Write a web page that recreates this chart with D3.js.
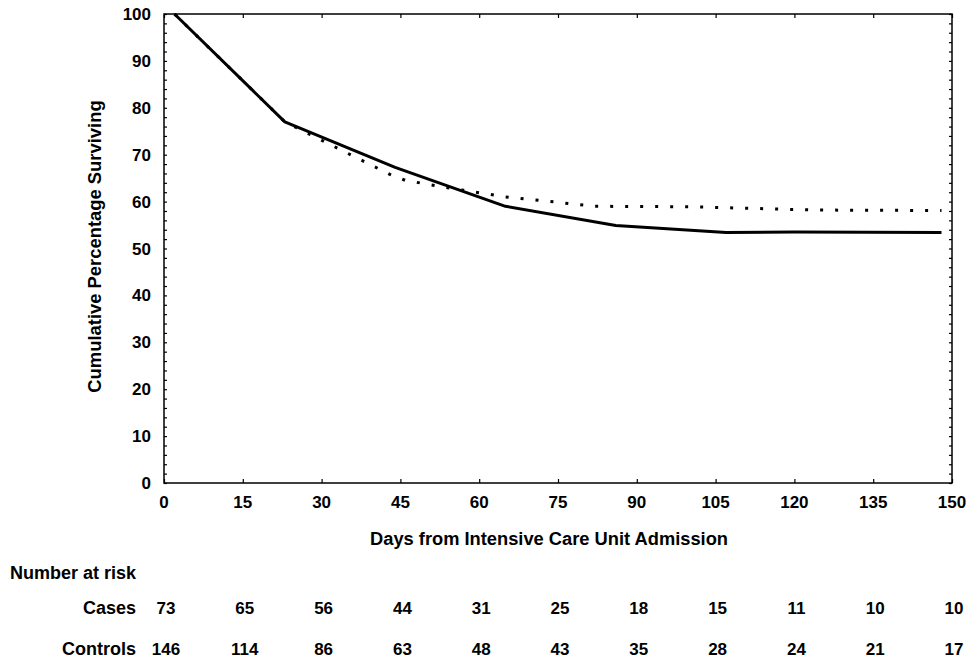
<!DOCTYPE html>
<html>
<head>
<meta charset="utf-8">
<script src="https://cdn.jsdelivr.net/npm/d3@7"></script>
<style>
  body { margin: 0; background: #fff; }
  svg text { font-family: "Liberation Sans", Arial, sans-serif; font-weight: bold; fill: #000; }
</style>
</head>
<body>
<div id="chart"></div>
<script>
// survival curves, [day, cumulative % surviving]
var casesCurve = [[2, 100], [23, 77], [44, 67.3], [65, 59], [86, 54.9], [107, 53.4], [120, 53.5], [148, 53.4]];
var controlsCurve = [[2, 100], [23, 77], [43, 65.8], [46, 64.5], [56, 62.6], [65, 61], [72, 60.2], [82, 59], [100, 58.9], [107, 58.7], [124, 58.2], [148, 58.1]];

// number at risk table
var riskDays = [0, 15, 30, 45, 60, 75, 90, 105, 120, 135, 150];
var casesAtRisk = [73, 65, 56, 44, 31, 25, 18, 15, 11, 10, 10];
var controlsAtRisk = [146, 114, 86, 63, 48, 43, 35, 28, 24, 21, 17];

var xTicks = [0, 15, 30, 45, 60, 75, 90, 105, 120, 135, 150];
var yTicks = [0, 10, 20, 30, 40, 50, 60, 70, 80, 90, 100];

function drawChart() {
    var width = 969, height = 659;
    var left = 164, right = 952, top = 14, bottom = 483;

    var svg = d3.select('#chart').append('svg')
        .attr('width', width)
        .attr('height', height);

    var x = d3.scaleLinear().domain([0, 150]).range([left, right]);
    var y = d3.scaleLinear().domain([0, 100]).range([bottom, top]);

    // minor ticks every 2 units on left and right, majors every 15 days top and bottom
    var minorY = d3.range(0, 101, 2);

    svg.append('g')
        .attr('transform', 'translate(' + left + ',0)')
        .call(d3.axisRight(y).tickValues(minorY).tickSize(3).tickFormat(''))
        .call(g => g.select('.domain').remove())
        .selectAll('line').attr('stroke-width', 1.2);

    svg.append('g')
        .attr('transform', 'translate(' + right + ',0)')
        .call(d3.axisLeft(y).tickValues(minorY).tickSize(3).tickFormat(''))
        .call(g => g.select('.domain').remove())
        .selectAll('line').attr('stroke-width', 1.2);

    svg.append('g')
        .attr('transform', 'translate(0,' + bottom + ')')
        .call(d3.axisTop(x).tickValues(xTicks).tickSize(4).tickFormat(''))
        .call(g => g.select('.domain').remove())
        .selectAll('line').attr('stroke-width', 1.2);

    svg.append('g')
        .attr('transform', 'translate(0,' + top + ')')
        .call(d3.axisBottom(x).tickValues(xTicks).tickSize(4).tickFormat(''))
        .call(g => g.select('.domain').remove())
        .selectAll('line').attr('stroke-width', 1.2);

    // frame
    svg.append('rect')
        .attr('x', left).attr('y', top)
        .attr('width', right - left).attr('height', bottom - top)
        .attr('fill', 'none')
        .attr('stroke', '#000')
        .attr('stroke-width', 1.5);

    // tick labels
    svg.append('g').selectAll('text')
        .data(yTicks)
        .enter().append('text')
        .attr('x', left - 13)
        .attr('y', d => y(d) + 6)
        .attr('text-anchor', 'end')
        .style('font-size', '17px')
        .text(d => d);

    svg.append('g').selectAll('text')
        .data(xTicks)
        .enter().append('text')
        .attr('x', d => x(d))
        .attr('y', 508)
        .attr('text-anchor', 'middle')
        .style('font-size', '17px')
        .text(d => d);

    // axis titles
    svg.append('text')
        .attr('transform', 'translate(101,' + ((top + bottom) / 2 - 2) + ') rotate(-90)')
        .attr('text-anchor', 'middle')
        .style('font-size', '18.4px')
        .text('Cumulative Percentage Surviving');

    svg.append('text')
        .attr('x', 549)
        .attr('y', 545)
        .attr('text-anchor', 'middle')
        .style('font-size', '18.3px')
        .text('Days from Intensive Care Unit Admission');

    // curves
    var line = d3.line()
        .x(d => x(d[0]))
        .y(d => y(d[1]));

    svg.append('path')
        .datum(controlsCurve)
        .attr('d', line)
        .attr('fill', 'none')
        .attr('stroke', '#000')
        .attr('stroke-width', 3)
        .attr('stroke-dasharray', '3,12');

    svg.append('path')
        .datum(casesCurve)
        .attr('d', line)
        .attr('fill', 'none')
        .attr('stroke', '#000')
        .attr('stroke-width', 3)
        .attr('stroke-linejoin', 'round');

    // number at risk
    svg.append('text')
        .attr('x', 10)
        .attr('y', 579)
        .style('font-size', '18px')
        .text('Number at risk');

    var rows = [
        { label: 'Cases', values: casesAtRisk, y: 614 },
        { label: 'Controls', values: controlsAtRisk, y: 655 }
    ];

    rows.forEach(function(r) {
        svg.append('text')
            .attr('x', 136)
            .attr('y', r.y)
            .attr('text-anchor', 'end')
            .style('font-size', '18px')
            .text(r.label);

        svg.append('g').selectAll('text')
            .data(r.values)
            .enter().append('text')
            .attr('x', (d, i) => x(riskDays[i]) + 2)
            .attr('y', r.y)
            .attr('text-anchor', 'middle')
            .style('font-size', '17px')
            .text(d => d);
    });
}

drawChart();
</script>
</body>
</html>
